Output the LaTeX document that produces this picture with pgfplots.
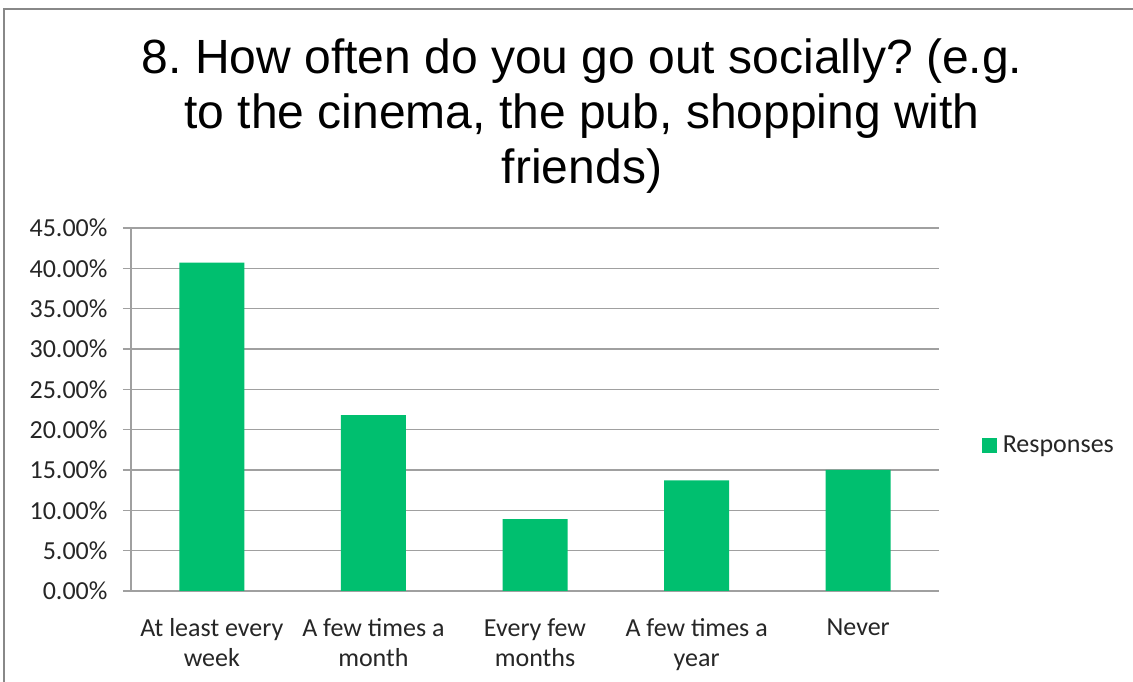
\documentclass[border=0pt]{standalone}
\usepackage{fontspec}
\setmainfont{Carlito}
\newfontfamily\arial{Liberation Sans}
\usepackage{pgfplots}
\pgfplotsset{compat=1.18}
\definecolor{bargreen}{RGB}{0,191,111}
\definecolor{gridgray}{RGB}{160,160,160}
\definecolor{framegray}{RGB}{136,136,136}
\frenchspacing
\begin{document}
\begin{tikzpicture}[x=1pt,y=1pt]
\path[use as bounding box] (0pt,0pt) rectangle (1133pt,682pt);
\fill[white] (0pt,0pt) rectangle (1133pt,682pt);
\draw[framegray,line width=2pt] (4pt,0pt) -- (4pt,673pt) -- (1133pt,673pt);
\node[anchor=base,font=\arial\fontsize{48}{55}\selectfont] at (582pt,608pt) {8. How often do you go out socially? (e.g.};
\node[anchor=base,font=\arial\fontsize{48}{55}\selectfont] at (582pt,553pt) {to the cinema, the pub, shopping with};
\node[anchor=base,font=\arial\fontsize{48}{55}\selectfont] at (582pt,498pt) {friends)};
\begin{axis}[
  at={(131pt,91pt)}, anchor=south west,
  width=808pt, height=363pt, scale only axis,
  xmin=-0.5, xmax=4.5, ymin=0, ymax=45,
  axis x line*=bottom, axis y line*=left,
  axis line style={gridgray, line width=1.2pt, -},
  ytick={0,5,...,45},
  ymajorgrids, grid style={gridgray, line width=1.2pt},
  tick style={gridgray, line width=1.2pt},
  tick align=outside, major tick length=8pt,
  /pgf/number format/assume math mode=true,
  yticklabel={\pgfmathprintnumber[fixed,fixed zerofill,precision=2]{\tick}\%},
  yticklabel style={font=\fontsize{26}{30}\selectfont, text=black!85, xshift=-12pt},
  xtick={0,1,2,3,4},
  xticklabels={{At least every\\week},{A few times a\\month},{Every few\\months},{A few times a\\year},{Never}},
  xticklabel style={font=\fontsize{26}{30}\selectfont, align=center, text=black!85, anchor=north, yshift=-16pt},
  x tick style={draw=none},
  extra x ticks={-0.5,0.5,1.5,2.5,3.5,4.5},
  extra x tick labels={},
  extra x tick style={tick style={draw=gridgray, line width=1.2pt}, major tick length=8pt, grid=none},
  legend style={at={(1.049,0.402)}, anchor=west, draw=none, fill=none,
    font=\fontsize{26}{30}\selectfont, text=black!85},
  legend image code/.code={\fill[bargreen] (0pt,-7.5pt) rectangle (15pt,7.5pt);\path (19pt,0pt);},
]
\addplot[ybar, bar width=65pt, fill=bargreen, draw=none] coordinates {
  (0,40.7) (1,21.8) (2,8.9) (3,13.7) (4,15.0)
};
\addlegendentry{Responses}
\end{axis}
\end{tikzpicture}
\end{document}
